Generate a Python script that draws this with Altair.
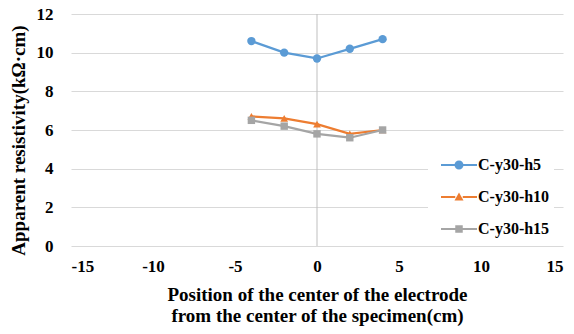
import altair as alt
import pandas as pd

positions = [-4, -2, 0, 2, 4]
series_names = ["C-y30-h5", "C-y30-h10", "C-y30-h15"]
h5 = [10.6, 10.0, 9.7, 10.2, 10.7]
h10 = [6.7, 6.6, 6.3, 5.8, 6.0]
h15 = [6.5, 6.2, 5.8, 5.6, 6.0]
colors = ["#5B9BD5", "#ED7D31", "#A5A5A5"]
x_ticks = [-15, -10, -5, 0, 5, 10, 15]
y_ticks = [0, 2, 4, 6, 8, 10, 12]

rows = []
for name, vals in zip(series_names, [h5, h10, h15]):
    for p, v in zip(positions, vals):
        rows.append({"pos": p, "val": v, "series": name})
df = pd.DataFrame(rows)

FONT = "Liberation Serif"

legend_paths = [
    "M-1.2,-0.065 H-0.25 V0.065 H-1.2 Z M0.25,-0.065 H1.2 V0.065 H0.25 Z "
    "M-0.3,0 A0.3,0.3 0 1,1 0.3,0 A0.3,0.3 0 1,1 -0.3,0 Z",
    "M-1.2,-0.065 H-0.25 V0.065 H-1.2 Z M0.25,-0.065 H1.2 V0.065 H0.25 Z "
    "M0,-0.3 L0.3,0.24 L-0.3,0.24 Z",
    "M-1.2,-0.065 H-0.25 V0.065 H-1.2 Z M0.25,-0.065 H1.2 V0.065 H0.25 Z "
    "M-0.25,-0.25 H0.25 V0.25 H-0.25 Z",
]

xscale = alt.Scale(domain=[-15, 15], nice=False, zero=False)
yscale = alt.Scale(domain=[0, 12], nice=False)

legend = alt.Legend(
    title=None, orient="none", legendX=357, legendY=132,
    fillColor="white", padding=4, rowPadding=9, symbolOffset=12,
    labelOffset=4, symbolSize=900, symbolOpacity=1, symbolStrokeWidth=0,
    labelFont=FONT, labelFontSize=16, labelFontWeight="bold", labelColor="black",
)
color_enc = alt.Color("series:N", scale=alt.Scale(domain=series_names, range=colors),
                      sort=series_names, legend=legend)

x_axis = alt.Axis(values=x_ticks, grid=False, ticks=False, domain=False,
                  labelExpr="'' + datum.value", labelPadding=12,
                  labelFont=FONT, labelFontSize=17, labelFontWeight="bold", labelColor="black",
                  title=["Position of the center of the electrode",
                         "from the center of the specimen(cm)"],
                  titleFont=FONT, titleFontSize=19, titleFontWeight="bold", titleColor="black",
                  titlePadding=11, titleLineHeight=21)
x_enc = alt.X("pos:Q", scale=xscale, axis=x_axis)
y_enc = alt.Y("val:Q", scale=yscale,
              axis=alt.Axis(values=y_ticks, grid=True, gridColor="#D9D9D9", ticks=False,
                            domain=False, labelPadding=18, labelExpr="'' + datum.value",
                            labelFont=FONT, labelFontSize=17, labelFontWeight="bold",
                            labelColor="black",
                            title="Apparent  resistivity(kΩ·cm)", titlePadding=8,
                            titleFont=FONT, titleFontSize=19, titleFontWeight="bold",
                            titleColor="black", titleY=126))

base = alt.Chart(df)

zero_rule = alt.Chart(pd.DataFrame({"pos": [0]})).mark_rule(color="#BFBFBF", strokeWidth=1).encode(
    x=x_enc
)

lines = base.mark_line(strokeWidth=2.25).encode(x=x_enc, y=y_enc, color=color_enc, detail="series:N")

shapes = ["circle", "triangle-up", "square"]
sizes = [70, 60, 55]
point_layers = []
for name, shp, sz in zip(series_names, shapes, sizes):
    point_layers.append(
        base.transform_filter(alt.datum.series == name)
        .mark_point(filled=True, shape=shp, size=sz, opacity=1)
        .encode(x=x_enc, y=y_enc, color=color_enc)
    )

legend_layer = base.mark_point(filled=True, opacity=0).encode(
    x=x_enc, y=y_enc, color=color_enc,
    shape=alt.Shape("series:N", scale=alt.Scale(domain=series_names, range=legend_paths),
                    sort=series_names, legend=legend),
)

chart = alt.layer(zero_rule, lines, *point_layers, legend_layer).properties(
    width=492, height=232,
    autosize=alt.AutoSizeParams(type="none"),
    padding={"left": 63, "top": 6, "right": 3, "bottom": 88},
).configure_view(stroke=None).configure_axis(
    labelFont=FONT, labelFontWeight="bold", titleFont=FONT, titleFontWeight="bold",
    labelOverlap=False,
).configure_legend(
    labelFont=FONT, labelFontSize=16, labelFontWeight="bold", labelColor="black",
)

chart.save("out.html", embed_options={"renderer": "svg", "actions": False})
